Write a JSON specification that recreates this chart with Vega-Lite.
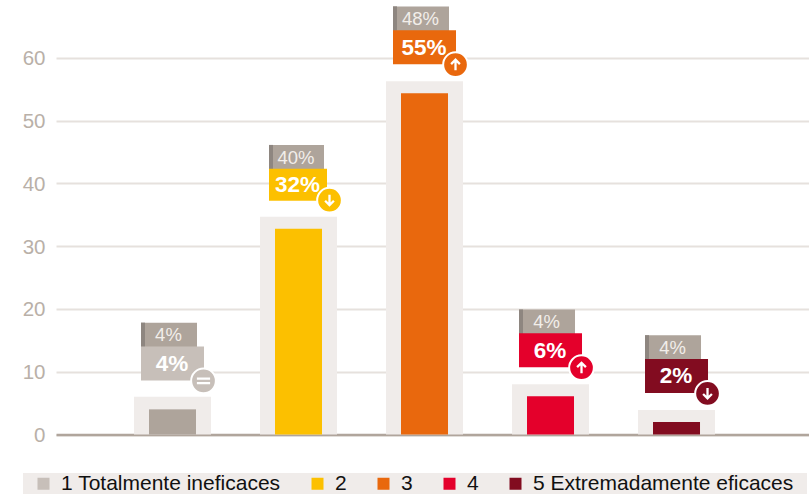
{
"$schema":"https://vega.github.io/schema/vega-lite/v6.json",
"width":753,"height":434.5,"autosize":"none","padding":{"left":56,"top":0,"right":0,"bottom":62.5},
"background":"white",
"config":{"font":"Liberation Sans","view":{"stroke":null}},
"data":{"values":[
{"cat":"1 Totalmente ineficaces","value":4.0,"shelf":6.0,"now":"4%","before":"4%","trend":"="},
{"cat":"2","value":32.8,"shelf":34.7,"now":"32%","before":"40%","trend":"↓"},
{"cat":"3","value":54.4,"shelf":56.3,"now":"55%","before":"48%","trend":"↑"},
{"cat":"4","value":6.1,"shelf":8.0,"now":"6%","before":"4%","trend":"↑"},
{"cat":"5 Extremadamente eficaces","value":2.0,"shelf":3.9,"now":"2%","before":"4%","trend":"↓"}
]},
"encoding":{
"x":{"field":"cat","type":"nominal","sort":null,"title":null,
 "scale":{"paddingInner":0,"paddingOuter":0.488,"align":0.435},
 "axis":{"labels":false,"ticks":false,"grid":false,"domain":true,"domainColor":"#b0a59c","domainWidth":2.5,"title":null}},
"y":{"field":"value","type":"quantitative","title":null,
 "scale":{"domain":[0,69.24],"nice":false,"zero":true},
 "axis":{"values":[0,10,20,30,40,50,60],"grid":true,"gridColor":"#e6e1dd","gridWidth":2,"domain":false,"ticks":false,"labelColor":"#b9b0a8","labelFontSize":20.5,"labelPadding":11,"labelOffset":1,"labelFont":"Liberation Sans"}}
},
"layer":[
{"mark":{"type":"bar","width":{"band":0.611},"color":"#f0ecea"},"encoding":{"y":{"field":"shelf","type":"quantitative"}}},
{"mark":{"type":"bar","width":{"band":0.373}},
 "encoding":{"color":{"field":"cat","type":"nominal","sort":null,
  "scale":{"domain":["1 Totalmente ineficaces","2","3","4","5 Extremadamente eficaces"],"range":["#c7bfb9","#fcc000","#e9680d","#e4002b","#820c20"]},
  "legend":{"title":null,"orient":"none","legendX":-33,"legendY":473,"direction":"horizontal","columns":5,"gridAlign":"each","symbolType":"square","symbolSize":144,"symbolStrokeWidth":0,"labelFontSize":21,"labelColor":"#111111","labelFont":"Liberation Sans","columnPadding":16,"fillColor":"#f0ecea","padding":0,"symbolOffset":10,"labelOffset":7,"labelLimit":400,
  "labelExpr":"indexof(datum.label,'5') == 0 ? datum.label + '\u00a0\u00a0\u200a\u200b' : datum.label"}}}},
{"transform":[{"filter":"datum.now == '4%'"}],"mark":{"type":"bar","width":{"band":0.373},"color":"#aea49b"}},
{"transform":[{"filter":"datum.cat != '2'"}],"mark":{"type":"tick","size":56,"thickness":24.5,"xOffset":-3.5,"yOffset":-74.5,"color":"#aea49b","opacity":1}},
{"transform":[{"filter":"datum.cat != '2'"}],"mark":{"type":"tick","size":4,"thickness":24.5,"xOffset":-29.5,"yOffset":-74.5,"color":"#8e8680","opacity":1}},
{"transform":[{"filter":"datum.cat == '2'"}],"mark":{"type":"tick","size":55,"thickness":24.5,"xOffset":-2,"yOffset":-71.5,"color":"#aea49b","opacity":1}},
{"transform":[{"filter":"datum.cat == '2'"}],"mark":{"type":"tick","size":4,"thickness":24.5,"xOffset":-27.5,"yOffset":-71.5,"color":"#8e8680","opacity":1}},
{"transform":[{"filter":"datum.cat != '2'"}],"mark":{"type":"tick","size":63,"thickness":34,"yOffset":-46,"opacity":1},
 "encoding":{"color":{"field":"cat","type":"nominal","sort":null}}},
{"transform":[{"filter":"datum.cat == '2'"}],"mark":{"type":"tick","size":58,"thickness":32,"xOffset":-0.5,"yOffset":-44,"opacity":1},
 "encoding":{"color":{"field":"cat","type":"nominal","sort":null}}},
{"transform":[{"filter":"datum.cat != '2'"}],"mark":{"type":"text","xOffset":-4,"yOffset":-74,"fontSize":18.5,"color":"#f2eeea","align":"center","baseline":"middle"},"encoding":{"text":{"field":"before"}}},
{"transform":[{"filter":"datum.cat == '2'"}],"mark":{"type":"text","xOffset":-2.5,"yOffset":-71,"fontSize":18.5,"color":"#f2eeea","align":"center","baseline":"middle"},"encoding":{"text":{"field":"before"}}},
{"transform":[{"filter":"datum.cat != '2'"}],"mark":{"type":"text","xOffset":-0.5,"yOffset":-45.5,"fontSize":22.5,"fontWeight":"bold","color":"white","align":"center","baseline":"middle"},"encoding":{"text":{"field":"now"}}},
{"transform":[{"filter":"datum.cat == '2'"}],"mark":{"type":"text","xOffset":-1,"yOffset":-43.5,"fontSize":22.5,"fontWeight":"bold","color":"white","align":"center","baseline":"middle"},"encoding":{"text":{"field":"now"}}},
{"mark":{"type":"point","filled":true,"shape":"circle","size":610,"xOffset":31,"yOffset":-28.5,"stroke":"white","strokeWidth":2,"opacity":1},
 "encoding":{"color":{"field":"cat","type":"nominal","sort":null}}},
{"mark":{"type":"point","filled":false,"size":484,"xOffset":31,"yOffset":-28.5,"stroke":"white","strokeWidth":2.3,"opacity":1},
 "encoding":{"shape":{"field":"trend","type":"nominal","legend":null,"scale":{"domain":["=","↓","↑"],"range":["M-0.6,-0.2L0.6,-0.2M-0.6,0.2L0.6,0.2","M0,-0.5L0,0.45M-0.4,0.05L0,0.45L0.4,0.05","M0,0.5L0,-0.45M-0.4,-0.05L0,-0.45L0.4,-0.05"]}}}}
]
}
